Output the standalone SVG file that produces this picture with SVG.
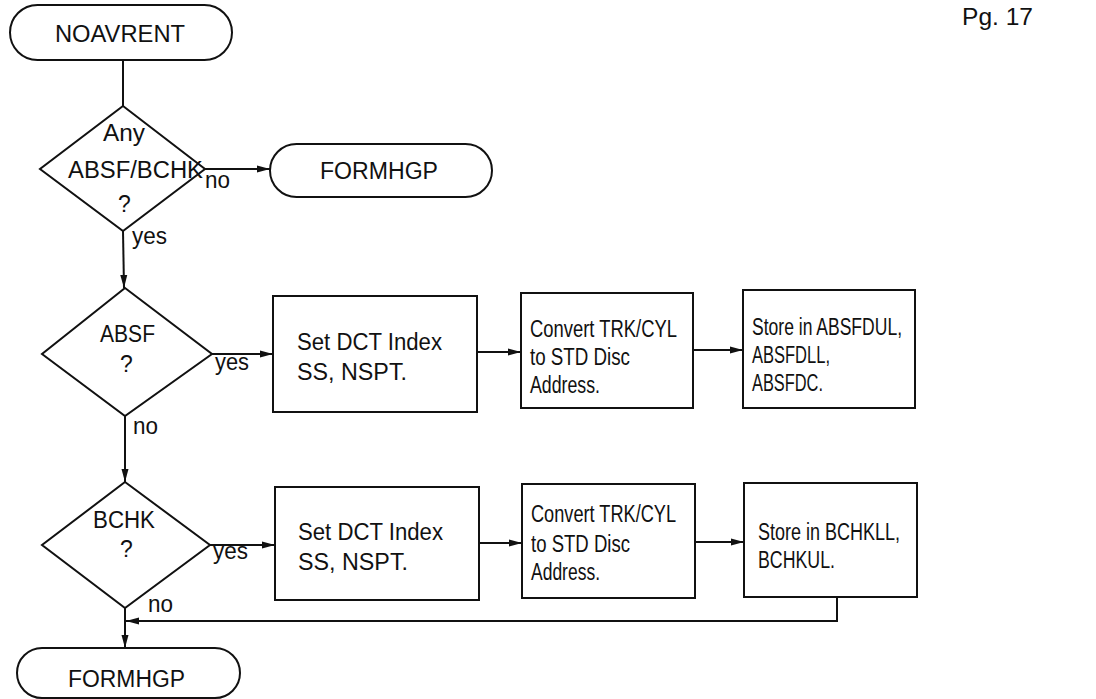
<svg xmlns="http://www.w3.org/2000/svg" width="1096" height="699" viewBox="0 0 1096 699">
<style>
.s{fill:none;stroke:#111;stroke-width:2}
.b{fill:#fff;stroke:#111;stroke-width:2}
text{font-family:"Liberation Sans",Arial,sans-serif;font-size:23px;fill:#111}
</style>
<defs>
<marker id="ah" markerUnits="userSpaceOnUse" markerWidth="14" markerHeight="10" refX="13" refY="5" orient="auto">
<path d="M0,1.5 L13,5 L0,8.5 Z" fill="#111"/>
</marker>
</defs>
<rect width="1096" height="699" fill="#fff"/>
<g id="connectors">
<path class="s" d="M123,60 L123,106"/>
<path class="s" d="M205,169 L270,169" marker-end="url(#ah)"/>
<path class="s" d="M123,231 L124,288" marker-end="url(#ah)"/>
<path class="s" d="M212,354 L273,354" marker-end="url(#ah)"/>
<path class="s" d="M477,352 L521,352" marker-end="url(#ah)"/>
<path class="s" d="M693,350 L743,350" marker-end="url(#ah)"/>
<path class="s" d="M125,416 L125,482" marker-end="url(#ah)"/>
<path class="s" d="M210,545 L275,545" marker-end="url(#ah)"/>
<path class="s" d="M479,543 L522,543" marker-end="url(#ah)"/>
<path class="s" d="M695,542 L744,542" marker-end="url(#ah)"/>
<path class="s" d="M837,597 L837,621 L126,621" marker-end="url(#ah)"/>
<path class="s" d="M125,608 L125,648" marker-end="url(#ah)"/>
<text x="205" y="188" textLength="25" lengthAdjust="spacingAndGlyphs">no</text>
<text x="132" y="244" textLength="35" lengthAdjust="spacingAndGlyphs">yes</text>
<text x="215" y="370" textLength="34" lengthAdjust="spacingAndGlyphs">yes</text>
<text x="133" y="434" textLength="25" lengthAdjust="spacingAndGlyphs">no</text>
<text x="213" y="559" textLength="35" lengthAdjust="spacingAndGlyphs">yes</text>
<text x="148" y="612" textLength="25" lengthAdjust="spacingAndGlyphs">no</text>
</g>
<g id="page">
<text x="962" y="25" textLength="71" lengthAdjust="spacingAndGlyphs">Pg.  17</text>
</g>
<g id="noavrent">
<rect class="b" x="10" y="5" width="222" height="55" rx="27.5"/>
<text x="55" y="42" textLength="130" lengthAdjust="spacingAndGlyphs">NOAVRENT</text>
</g>
<g id="any">
<path class="b" d="M123,106 L205,169 L123,231 L40,169 Z"/>
<text x="103" y="141" textLength="42" lengthAdjust="spacingAndGlyphs">Any</text>
<text x="68" y="178" textLength="135" lengthAdjust="spacingAndGlyphs">ABSF/BCHK</text>
<text x="118" y="212">?</text>
</g>
<g id="formhgp1">
<rect class="b" x="270" y="144" width="222" height="53" rx="26.5"/>
<text x="320" y="179" textLength="118" lengthAdjust="spacingAndGlyphs">FORMHGP</text>
</g>
<g id="absf">
<path class="b" d="M125,288 L212,354 L125,416 L42,354 Z"/>
<text x="100" y="342" textLength="55" lengthAdjust="spacingAndGlyphs">ABSF</text>
<text x="120" y="372">?</text>
</g>
<g id="setdct1">
<rect class="b" x="273" y="296" width="204" height="116"/>
<text x="297" y="350" textLength="145" lengthAdjust="spacingAndGlyphs">Set DCT  Index</text>
<text x="297" y="380" textLength="110" lengthAdjust="spacingAndGlyphs">SS,  NSPT.</text>
</g>
<g id="convert1">
<rect class="b" x="521" y="293" width="172" height="115"/>
<text x="530" y="337" textLength="147" lengthAdjust="spacingAndGlyphs">Convert TRK/CYL</text>
<text x="530" y="365" textLength="100" lengthAdjust="spacingAndGlyphs">to STD  Disc</text>
<text x="530" y="393" textLength="70" lengthAdjust="spacingAndGlyphs">Address.</text>
</g>
<g id="store1">
<rect class="b" x="743" y="290" width="172" height="118"/>
<text x="752" y="335" textLength="150" lengthAdjust="spacingAndGlyphs">Store in ABSFDUL,</text>
<text x="752" y="363" textLength="78" lengthAdjust="spacingAndGlyphs">ABSFDLL,</text>
<text x="752" y="391" textLength="71" lengthAdjust="spacingAndGlyphs">ABSFDC.</text>
</g>
<g id="bchk">
<path class="b" d="M125,482 L210,545 L125,608 L42,545 Z"/>
<text x="93" y="528" textLength="62" lengthAdjust="spacingAndGlyphs">BCHK</text>
<text x="120" y="557">?</text>
</g>
<g id="setdct2">
<rect class="b" x="275" y="487" width="204" height="113"/>
<text x="298" y="540" textLength="145" lengthAdjust="spacingAndGlyphs">Set DCT  Index</text>
<text x="298" y="570" textLength="110" lengthAdjust="spacingAndGlyphs">SS,  NSPT.</text>
</g>
<g id="convert2">
<rect class="b" x="522" y="484" width="173" height="114"/>
<text x="531" y="522" textLength="145" lengthAdjust="spacingAndGlyphs">Convert TRK/CYL</text>
<text x="531" y="552" textLength="99" lengthAdjust="spacingAndGlyphs">to STD  Disc</text>
<text x="531" y="580" textLength="69" lengthAdjust="spacingAndGlyphs">Address.</text>
</g>
<g id="store2">
<rect class="b" x="744" y="483" width="173" height="114"/>
<text x="758" y="540" textLength="142" lengthAdjust="spacingAndGlyphs">Store in BCHKLL,</text>
<text x="758" y="568" textLength="77" lengthAdjust="spacingAndGlyphs">BCHKUL.</text>
</g>
<g id="formhgp2">
<rect class="b" x="17" y="648" width="223" height="50" rx="25"/>
<text x="68" y="687" textLength="117" lengthAdjust="spacingAndGlyphs">FORMHGP</text>
</g>
</svg>
